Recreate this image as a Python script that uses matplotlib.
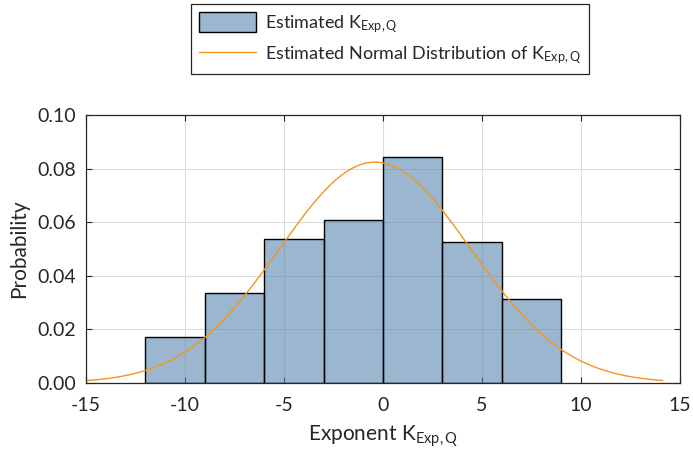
import numpy as np
import matplotlib
matplotlib.use("Agg")
from matplotlib import pyplot as plt

# histogram of the estimated exponent, plus the fitted normal curve
bin_edges = [-12, -9, -6, -3, 0, 3, 6, 9]
probabilities = [0.0172, 0.0337, 0.0537, 0.0608, 0.0842, 0.0525, 0.0315]

# fitted normal distribution (drawn over mu +/- 3 sigma)
mu = -0.4
sigma = 4.84

labelHist = r"Estimated K$_{\rm Exp,Q}$"
labelNorm = r"Estimated Normal Distribution of K$_{\rm Exp,Q}$"
xlabel = r"Exponent K$_{\rm Exp,Q}$"
ylabel = "Probability"

plt.rcParams["font.family"] = ["Lato", "DejaVu Sans"]
plt.rcParams["mathtext.fontset"] = "custom"
plt.rcParams["mathtext.rm"] = "Lato"
plt.rcParams["mathtext.it"] = "Lato:italic"
plt.rcParams["axes.unicode_minus"] = False
textColor = "#262626"

fig = plt.figure(figsize=(6.93, 4.59), dpi=100)
ax = fig.add_axes([86 / 693, 76 / 459, 594 / 693, 268 / 459])

ax.set_axisbelow(True)
ax.grid(True, color="#dcdcdc", linewidth=0.8)

widths = np.diff(bin_edges)
hBars = ax.bar(bin_edges[:-1], probabilities, width=widths, align="edge",
               color=(88 / 255, 135 / 255, 175 / 255, 0.6), edgecolor="black",
               linewidth=1.0, zorder=2)

xs = np.linspace(mu - 3 * sigma, mu + 3 * sigma, 300)
pdf = np.exp(-0.5 * ((xs - mu) / sigma) ** 2) / (sigma * np.sqrt(2 * np.pi))
hLine, = ax.plot(xs, pdf, color="#f7931e", linewidth=1.0, zorder=3)

ax.set_xlim(-15, 15)
ax.set_ylim(0, 0.1)
ax.set_xticks([-15, -10, -5, 0, 5, 10, 15])
ax.set_yticks([0, 0.02, 0.04, 0.06, 0.08, 0.1])
ax.set_yticklabels(["0.00", "0.02", "0.04", "0.06", "0.08", "0.10"])
ax.tick_params(direction="in", top=True, right=True, colors=textColor,
               labelsize=14, length=4, pad=7)
ax.tick_params(axis="x", pad=10)
for s in ax.spines.values():
    s.set_color(textColor)
    s.set_linewidth(0.9)

ax.set_xlabel(xlabel, fontsize=15, color=textColor, labelpad=7)
ax.set_ylabel(ylabel, fontsize=15, color=textColor, labelpad=6)

leg = fig.legend([hBars, hLine], [labelHist, labelNorm],
                 loc="upper center", bbox_to_anchor=(390 / 693, 1 - 4 / 459),
                 fontsize=13, frameon=True, fancybox=False, framealpha=1,
                 handlelength=3.2, handleheight=1.3, borderpad=0.45,
                 labelspacing=0.5, handletextpad=0.5, borderaxespad=0)
leg.get_frame().set_edgecolor(textColor)
leg.get_frame().set_linewidth(0.9)
for t in leg.get_texts():
    t.set_color(textColor)

fig.savefig("out.png", dpi=100)
